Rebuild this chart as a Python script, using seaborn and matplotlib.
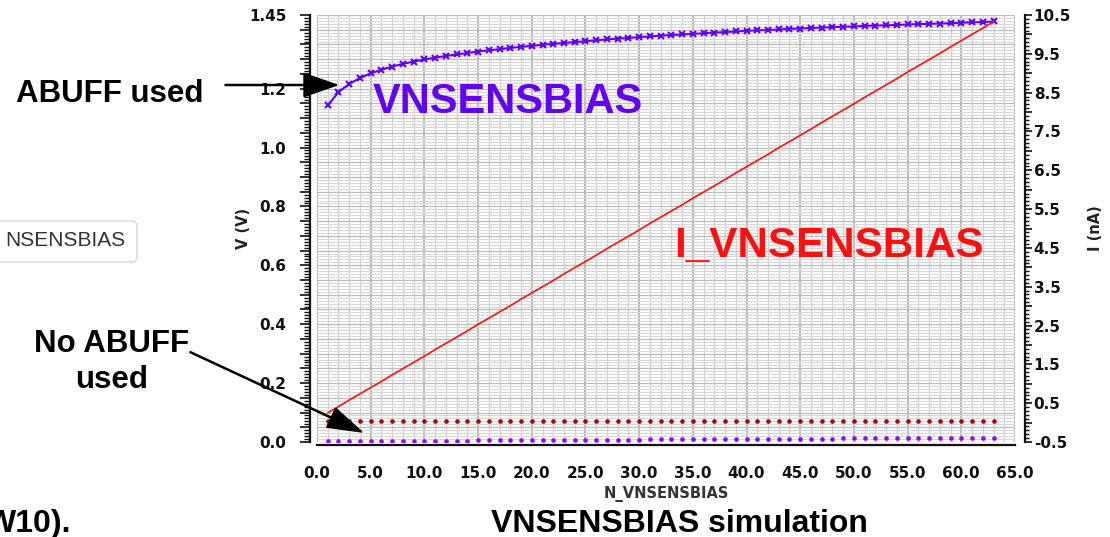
import matplotlib
matplotlib.use("Agg")
import matplotlib.pyplot as plt
import matplotlib.transforms as mtransforms
from matplotlib.patches import FancyArrow, FancyBboxPatch
from matplotlib.ticker import MultipleLocator, FixedLocator, FuncFormatter, FormatStrFormatter
import numpy as np
import pandas as pd
import seaborn as sns

# ---- simulation sweep: N_VNSENSBIAS code 1..63 ----
n_vnsensbias = list(range(1, 64))

# VNSENSBIAS voltage with the analog buffer (V)
v_abuff = [
    1.143, 1.188, 1.216, 1.236, 1.252, 1.264, 1.275, 1.284, 1.292, 1.299,
    1.305, 1.311, 1.316, 1.321, 1.326, 1.330, 1.334, 1.338, 1.342, 1.345,
    1.349, 1.352, 1.355, 1.358, 1.361, 1.364, 1.367, 1.370, 1.372, 1.375,
    1.377, 1.380, 1.382, 1.384, 1.386, 1.388, 1.390, 1.392, 1.394, 1.396,
    1.398, 1.399, 1.401, 1.403, 1.404, 1.406, 1.407, 1.409, 1.410, 1.411,
    1.413, 1.414, 1.415, 1.416, 1.418, 1.419, 1.420, 1.421, 1.422, 1.424,
    1.425, 1.426, 1.428,
]

# bias current I_VNSENSBIAS with the analog buffer (nA)
i_abuff = [
    0.25, 0.41, 0.58, 0.74, 0.90, 1.06, 1.23, 1.39, 1.55, 1.71,
    1.88, 2.04, 2.20, 2.36, 2.53, 2.69, 2.85, 3.01, 3.18, 3.34,
    3.50, 3.66, 3.83, 3.99, 4.15, 4.31, 4.48, 4.64, 4.80, 4.96,
    5.13, 5.29, 5.45, 5.61, 5.78, 5.94, 6.10, 6.26, 6.43, 6.59,
    6.75, 6.91, 7.08, 7.24, 7.40, 7.56, 7.73, 7.89, 8.05, 8.21,
    8.38, 8.54, 8.70, 8.86, 9.03, 9.19, 9.35, 9.51, 9.68, 9.84,
    10.00, 10.16, 10.33,
]

# VNSENSBIAS voltage without the analog buffer (V)
v_no_abuff = [
    0.003, 0.003, 0.003, 0.003, 0.004, 0.004, 0.004, 0.004, 0.004, 0.005,
    0.005, 0.005, 0.005, 0.005, 0.006, 0.006, 0.006, 0.006, 0.006, 0.007,
    0.007, 0.007, 0.007, 0.007, 0.007, 0.008, 0.008, 0.008, 0.008, 0.008,
    0.009, 0.009, 0.009, 0.009, 0.009, 0.009, 0.010, 0.010, 0.010, 0.010,
    0.010, 0.010, 0.011, 0.011, 0.011, 0.011, 0.011, 0.011, 0.012, 0.012,
    0.012, 0.012, 0.012, 0.012, 0.013, 0.013, 0.013, 0.013, 0.013, 0.013,
    0.014, 0.014, 0.014,
]

# bias current without the analog buffer (nA)
i_no_abuff = [
    0.03, 0.03, 0.03, 0.03, 0.03, 0.03, 0.03, 0.03, 0.03, 0.03,
    0.03, 0.03, 0.03, 0.03, 0.03, 0.03, 0.03, 0.03, 0.03, 0.03,
    0.03, 0.03, 0.03, 0.03, 0.03, 0.03, 0.03, 0.03, 0.03, 0.03,
    0.03, 0.03, 0.03, 0.03, 0.03, 0.03, 0.03, 0.03, 0.03, 0.03,
    0.03, 0.03, 0.03, 0.03, 0.03, 0.03, 0.03, 0.03, 0.03, 0.03,
    0.03, 0.03, 0.03, 0.03, 0.03, 0.03, 0.03, 0.03, 0.03, 0.03,
    0.03, 0.03, 0.03,
]

# labelled ticks
v_label_ticks = [0.0, 0.2, 0.4, 0.6, 0.8, 1.0, 1.2, 1.45]
i_label_ticks = [-0.5, 0.5, 1.5, 2.5, 3.5, 4.5, 5.5, 6.5, 7.5, 8.5, 9.5, 10.5]

df = pd.DataFrame({
    "N": n_vnsensbias,
    "V": v_abuff,
    "I": i_abuff,
    "V_no": v_no_abuff,
    "I_no": i_no_abuff,
})

PURPLE = "#6400f0"
VIOLET = "#9a00ff"
RED = "#ff1010"
DARK_RED = "#b30000"

sns.set_style("white")
plt.rcParams["font.family"] = ["DejaVu Sans"]
plt.rcParams["font.weight"] = "bold"

W, H = 1110, 537
fig = plt.figure(figsize=(W / 100, H / 100), dpi=100)
# pixel coordinates measured from the top-left corner of the figure
px = mtransforms.Affine2D().scale(1 / W, -1 / H).translate(0, 1) + fig.transFigure

ax = fig.add_axes([317 / W, (H - 442) / H, (1015 - 317) / W, (442 - 15) / H])
ax2 = ax.twinx()

# ---- series ----
sns.lineplot(data=df, x="N", y="V", ax=ax, color=PURPLE, lw=1.5, marker="x",
             markersize=4.5, markeredgewidth=1.5, markeredgecolor=PURPLE,
             estimator=None, zorder=4)
sns.scatterplot(data=df, x="N", y="V_no", ax=ax, color=VIOLET, s=11,
                linewidth=0, zorder=4)
sns.lineplot(data=df, x="N", y="I", ax=ax2, color=RED, lw=1.2,
             estimator=None, zorder=4)
sns.scatterplot(data=df, x="N", y="I_no", ax=ax2, color=DARK_RED, s=11,
                linewidth=0, zorder=4)

# ---- limits ----
ax.set_xlim(0, 65)
ax.set_ylim(0, 1.45)
ax2.set_ylim(-0.5, 10.5)

# ---- spines ----
for s in ("top", "right"):
    ax.spines[s].set_visible(False)
for s in ("top", "left", "bottom"):
    ax2.spines[s].set_visible(False)
ax.spines["left"].set_position(("outward", 5))
ax.spines["bottom"].set_position(("outward", 2))
ax2.spines["right"].set_position(("outward", 7.5))
for sp in (ax.spines["left"], ax.spines["bottom"], ax2.spines["right"]):
    sp.set_color("#111111")
    sp.set_linewidth(1.6)

# ---- ticks ----
ax.xaxis.set_major_locator(MultipleLocator(5))
ax.xaxis.set_minor_locator(MultipleLocator(1))
ax.xaxis.set_major_formatter(FormatStrFormatter("%.1f"))

v_major = np.round(np.arange(0, 1.4501, 0.05), 2)
ax.yaxis.set_major_locator(FixedLocator(v_major))
ax.yaxis.set_minor_locator(MultipleLocator(0.01))


def v_fmt(v, pos):
    for t in v_label_ticks:
        if abs(v - t) < 1e-6:
            return f"{t:.2f}" if abs(t - 1.45) < 1e-6 else f"{t:.1f}"
    return ""


ax.yaxis.set_major_formatter(FuncFormatter(v_fmt))

i_major = np.round(np.arange(-0.5, 10.5001, 0.5), 1)
ax2.yaxis.set_major_locator(FixedLocator(i_major))
ax2.yaxis.set_minor_locator(MultipleLocator(0.1))


def i_fmt(v, pos):
    for t in i_label_ticks:
        if abs(v - t) < 1e-6:
            return f"{t:.1f}"
    return ""


ax2.yaxis.set_major_formatter(FuncFormatter(i_fmt))

ax.tick_params(axis="x", which="major", direction="out", length=7, width=1.2,
               labelsize=11, pad=8, colors="#111111")
ax.tick_params(axis="x", which="minor", direction="out", length=4, width=1.0,
               colors="#111111")
ax.tick_params(axis="y", which="major", direction="out", length=7, width=1.2,
               labelsize=11, pad=10, colors="#111111")
ax.tick_params(axis="y", which="minor", direction="out", length=4, width=1.0,
               colors="#111111")
ax2.tick_params(axis="y", which="major", direction="out", length=5, width=1.2,
                labelsize=11, pad=1, colors="#111111")
ax2.tick_params(axis="y", which="minor", direction="out", length=3, width=1.0,
                colors="#111111")

# ---- grid ----
ax.set_axisbelow(True)
ax.grid(which="minor", axis="y", color="#d8d8d8", lw=0.8)
ax.grid(which="major", axis="y", color="#bdbdbd", lw=0.9)
ax.grid(which="minor", axis="x", color="#d0d0d0", lw=0.9)
ax.grid(which="major", axis="x", color="#a4a4a4", lw=1.1)

# ---- axis labels ----
ax.set_xlabel("N_VNSENSBIAS", fontsize=10.5, fontweight="bold", color="#333333")
ax.xaxis.set_label_coords(0.5, -(494 - 442) / (442 - 15))
ax.xaxis.label.set_va("center")
ax.set_ylabel("V (V)", fontsize=10.5, fontweight="bold", color="#222222")
ax.yaxis.set_label_coords((243 - 317) / (1015 - 317), 0.5)
ax.yaxis.label.set_va("center")
ax2.set_ylabel("I (nA)", fontsize=10.5, fontweight="bold", color="#222222")
ax2.yaxis.set_label_coords((1095 - 317) / (1015 - 317), 0.5)
ax2.yaxis.label.set_va("center")

# ---- in-plot series names ----
ax.text(5.2, (442 - 115) / 293, "VNSENSBIAS", color=PURPLE, fontsize=30,
        fontweight="bold", family=["Liberation Sans"], va="baseline",
        ha="left", zorder=6)
ax2.text(33.3, -0.5 + (442 - 257) / 38.82, "I_VNSENSBIAS", color=RED,
         fontsize=30.3, fontweight="bold", family=["Liberation Sans"],
         va="baseline", ha="left", zorder=6)

# ---- slide annotations ----
ann = dict(family=["Liberation Sans"], fontweight="bold", color="black",
           transform=px)
fig.text(16, 101.5, "ABUFF used", fontsize=22.5, ha="left", va="baseline", **ann)
fig.text(112, 352, "No ABUFF", fontsize=22.5, ha="center", va="baseline", **ann)
fig.text(112, 388, "used", fontsize=22.5, ha="center", va="baseline", **ann)
fig.text(679, 532, "VNSENSBIAS simulation", fontsize=23, ha="center",
         va="baseline", **ann)
fig.text(71, 532, "W10).", fontsize=23, ha="right", va="baseline", **ann)

fig.add_artist(FancyArrow(225, 85, 337 - 225, 0, width=1.1, head_width=23,
                          head_length=33, length_includes_head=True,
                          color="black", transform=px, zorder=10))
fig.add_artist(FancyArrow(190, 352, 362 - 190, 432 - 352, width=1.1,
                          head_width=21, head_length=34,
                          length_includes_head=True, color="black",
                          transform=px, zorder=10))

# legend-style box cut at the left edge
fig.add_artist(FancyBboxPatch((-20, 221), 157, 41,
                              boxstyle="round,pad=0,rounding_size=5",
                              facecolor="white", edgecolor="#d8d8d8", lw=1.0,
                              transform=px, zorder=3))
fig.text(125, 241, "NSENSBIAS", fontsize=15, fontweight="normal",
         family=["Liberation Sans"], color="#333333", ha="right",
         va="center", transform=px, zorder=4)

fig.savefig("out.png", dpi=100)
